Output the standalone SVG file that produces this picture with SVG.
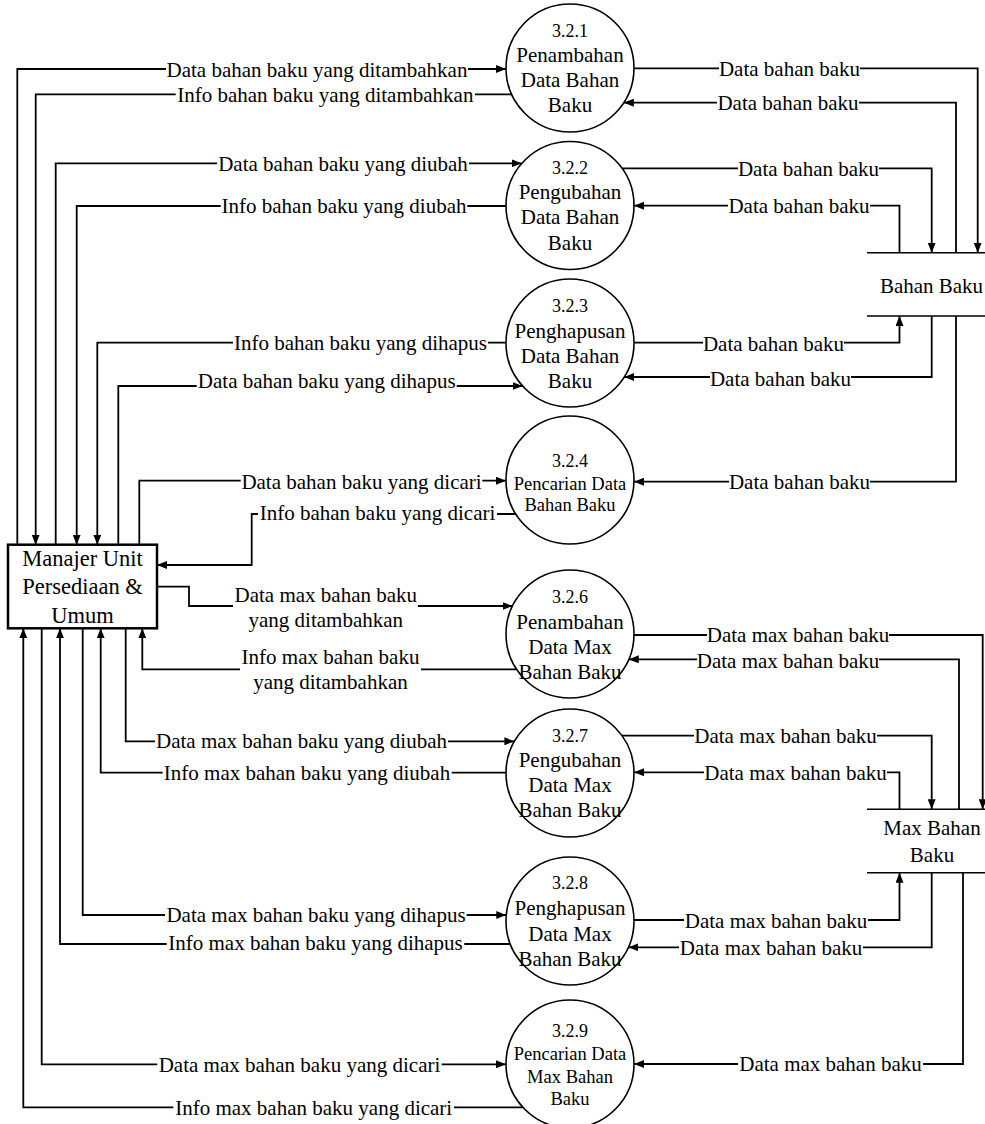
<svg xmlns="http://www.w3.org/2000/svg" width="985" height="1124" viewBox="0 0 985 1124">
<style>
text{font-family:"Liberation Serif","Times New Roman",serif;fill:#000}
.lbl{font-size:21px;text-anchor:middle}
.num{font-size:18px;text-anchor:middle}
.nm{font-size:21px;text-anchor:middle}
.sm{font-size:18.5px;text-anchor:middle}
.proc{fill:#fff;stroke:#000;stroke-width:1.6}
.flow{fill:none;stroke:#000;stroke-width:1.8;marker-end:url(#arr)}
.store{fill:none;stroke:#000;stroke-width:1.6}
</style>
<defs>
<marker id="arr" markerUnits="userSpaceOnUse" markerWidth="10" markerHeight="8" refX="10" refY="4" orient="auto">
<path d="M0,0 L10,4 L0,8 z" fill="#000"/>
</marker>
</defs>
<rect width="985" height="1124" fill="#fff"/>

<g id="manajer">
<rect x="8" y="544.7" width="149" height="83.6" fill="#fff" stroke="#000" stroke-width="2.5"/>
<text x="82.5" y="566" font-size="22.5" text-anchor="middle">Manajer Unit</text>
<text x="82.5" y="594" font-size="22.5" text-anchor="middle">Persediaan &amp;</text>
<text x="82.5" y="622.5" font-size="22.5" text-anchor="middle">Umum</text>
</g>

<g id="p321"><circle class="proc" cx="570" cy="68" r="64"/>
<text class="num" x="570" y="37">3.2.1</text><text class="nm" x="570" y="62">Penambahan</text><text class="nm" x="570" y="87">Data Bahan</text><text class="nm" x="570" y="112">Baku</text></g>
<g id="p322"><circle class="proc" cx="570" cy="205.5" r="64"/>
<text class="num" x="570" y="174">3.2.2</text><text class="nm" x="570" y="198.5">Pengubahan</text><text class="nm" x="570" y="224">Data Bahan</text><text class="nm" x="570" y="249.5">Baku</text></g>
<g id="p323"><circle class="proc" cx="570" cy="343" r="64"/>
<text class="num" x="570" y="312">3.2.3</text><text class="nm" x="570" y="338">Penghapusan</text><text class="nm" x="570" y="363">Data Bahan</text><text class="nm" x="570" y="387.5">Baku</text></g>
<g id="p324"><circle class="proc" cx="570" cy="480" r="64"/>
<text class="num" x="570" y="467">3.2.4</text><text class="sm" x="570" y="489.5">Pencarian Data</text><text class="sm" x="570" y="511">Bahan Baku</text></g>
<g id="p326"><circle class="proc" cx="570" cy="634" r="64"/>
<text class="num" x="570" y="603">3.2.6</text><text class="nm" x="570" y="629">Penambahan</text><text class="nm" x="570" y="654">Data Max</text><text class="nm" x="570" y="679">Bahan Baku</text></g>
<g id="p327"><circle class="proc" cx="570" cy="773" r="64"/>
<text class="num" x="570" y="742">3.2.7</text><text class="nm" x="570" y="767">Pengubahan</text><text class="nm" x="570" y="792">Data Max</text><text class="nm" x="570" y="817">Bahan Baku</text></g>
<g id="p328"><circle class="proc" cx="570" cy="921" r="64"/>
<text class="num" x="570" y="889">3.2.8</text><text class="nm" x="570" y="915">Penghapusan</text><text class="nm" x="570" y="940.5">Data Max</text><text class="nm" x="570" y="965.5">Bahan Baku</text></g>
<g id="p329"><circle class="proc" cx="570" cy="1064" r="64"/>
<text class="num" x="570" y="1036.5">3.2.9</text><text class="sm" x="570" y="1059.5">Pencarian Data</text><text class="sm" x="570" y="1083">Max Bahan</text><text class="sm" x="570" y="1105">Baku</text></g>

<g id="store-bahan">
<path class="store" d="M867,252.7 H985 M867,316 H985"/>
<text class="lbl" x="931.5" y="292.5">Bahan Baku</text>
</g>
<g id="store-max">
<path class="store" d="M867,809.3 H985 M867,872.7 H985"/>
<text class="lbl" x="932" y="835">Max Bahan</text>
<text class="lbl" x="932" y="861.7">Baku</text>
</g>

<g id="connectors">
<path class="flow" d="M17.3,544.7 V69 H166 M468,69 H506"/>
<path class="flow" d="M511.7,94.3 H475 M175.7,94.3 H35.7 V544.7"/>
<path class="flow" d="M55.7,544.7 V163.3 H217 M469,163.3 H521.7"/>
<path class="flow" d="M506,206 H467.3 M220.7,206 H76.7 V544.7"/>
<path class="flow" d="M506,342.7 H488 M233,342.7 H97.3 V544.7"/>
<path class="flow" d="M118.3,544.7 V386 H196.7 M456.7,386 H522.6"/>
<path class="flow" d="M139.3,544.7 V480.7 H240.7 M482.3,480.7 H506"/>
<path class="flow" d="M515.8,514 H497 M258,514 H251.7 V565 H157"/>
<path class="flow" d="M157,586.7 H189 V606 H233 M418,606 H512.5"/>
<path class="flow" d="M516.6,669.3 H421 M240,669.3 H142.3 V628.3"/>
<path class="flow" d="M125.7,628.3 V741.3 H155 M448,741.3 H514.4"/>
<path class="flow" d="M506,772.7 H451.7 M162.7,772.7 H100.7 V628.3"/>
<path class="flow" d="M82.7,628.3 V915 H165 M466.7,915 H506.3"/>
<path class="flow" d="M510.3,944 H464.3 M166.7,944 H60 V628.3"/>
<path class="flow" d="M41.7,628.3 V1064.3 H157.3 M441.7,1064.3 H506"/>
<path class="flow" d="M522.6,1107.3 H454 M173.3,1107.3 H23.3 V628.3"/>

<path class="flow" d="M634,68.3 H719 M860,68.3 H977.7 V252.7"/>
<path class="flow" d="M956,252.7 V102.7 H859 M717,102.7 H623.8"/>
<path class="flow" d="M622,168.3 H738 M879,168.3 H931.7 V252.7"/>
<path class="flow" d="M899.5,252.7 V205.7 H870 M728,205.7 H634"/>
<path class="flow" d="M634,342.7 H703 M844,342.7 H899.5 V316"/>
<path class="flow" d="M931.7,316 V377 H851 M710,377 H624.2"/>
<path class="flow" d="M956,316 V481.7 H870 M729,481.7 H634"/>
<path class="flow" d="M634,635 H707 M889,635 H982.7 V809.3"/>
<path class="flow" d="M959,809.3 V659.3 H879 M697,659.3 H628.8"/>
<path class="flow" d="M622,735.7 H694 M877,735.7 H931.7 V809.3"/>
<path class="flow" d="M899.5,809.3 V772.3 H887 M704,772.3 H634"/>
<path class="flow" d="M634,920 H684 M868,920 H899.5 V872.7"/>
<path class="flow" d="M931.7,872.7 V947.3 H863 M679,947.3 H628.3"/>
<path class="flow" d="M963,872.7 V1064 H923 M738,1064 H634"/>

<text class="lbl" x="317" y="77">Data bahan baku yang ditambahkan</text>
<text class="lbl" x="325.3" y="101.7">Info bahan baku yang ditambahkan</text>
<text class="lbl" x="343" y="170.7">Data bahan baku yang diubah</text>
<text class="lbl" x="344" y="213.3">Info bahan baku yang diubah</text>
<text class="lbl" x="360.5" y="349.5">Info bahan baku yang dihapus</text>
<text class="lbl" x="326.7" y="388.3">Data bahan baku yang dihapus</text>
<text class="lbl" x="361.5" y="488.5">Data bahan baku yang dicari</text>
<text class="lbl" x="377.5" y="520">Info bahan baku yang dicari</text>
<text class="lbl" x="325.8" y="601.7">Data max bahan baku</text>
<text class="lbl" x="325.8" y="626.5">yang ditambahkan</text>
<text class="lbl" x="330.5" y="664.3">Info max bahan baku</text>
<text class="lbl" x="330.5" y="689">yang ditambahkan</text>
<text class="lbl" x="301.5" y="748.3">Data max bahan baku yang diubah</text>
<text class="lbl" x="307" y="779.5">Info max bahan baku yang diubah</text>
<text class="lbl" x="316" y="921.7">Data max bahan baku yang dihapus</text>
<text class="lbl" x="315.5" y="950">Info max bahan baku yang dihapus</text>
<text class="lbl" x="299.5" y="1071.5">Data max bahan baku yang dicari</text>
<text class="lbl" x="313.7" y="1114.5">Info max bahan baku yang dicari</text>

<text class="lbl" x="789.5" y="75.5">Data bahan baku</text>
<text class="lbl" x="788" y="110">Data bahan baku</text>
<text class="lbl" x="808.5" y="175.5">Data bahan baku</text>
<text class="lbl" x="799" y="213">Data bahan baku</text>
<text class="lbl" x="773.5" y="351">Data bahan baku</text>
<text class="lbl" x="780.5" y="386">Data bahan baku</text>
<text class="lbl" x="799.5" y="488.5">Data bahan baku</text>
<text class="lbl" x="798" y="642">Data max bahan baku</text>
<text class="lbl" x="788" y="668">Data max bahan baku</text>
<text class="lbl" x="785.5" y="743">Data max bahan baku</text>
<text class="lbl" x="795.5" y="779.5">Data max bahan baku</text>
<text class="lbl" x="776" y="928">Data max bahan baku</text>
<text class="lbl" x="771" y="955">Data max bahan baku</text>
<text class="lbl" x="830.5" y="1071">Data max bahan baku</text>
</g>
</svg>
